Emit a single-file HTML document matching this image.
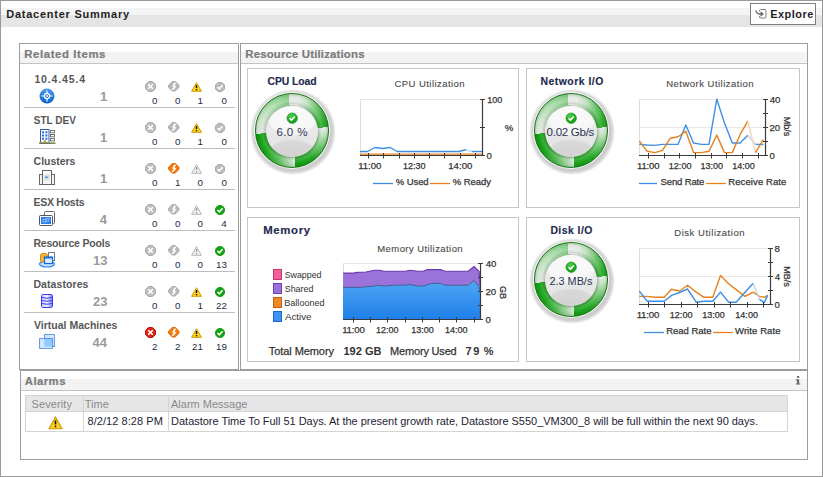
<!DOCTYPE html>
<html><head><meta charset="utf-8"><style>
html,body{margin:0;padding:0;background:#fff;}
body{width:823px;height:477px;position:relative;overflow:hidden;font-family:"Liberation Sans",sans-serif;}
.t{position:absolute;white-space:nowrap;}
.r{position:absolute;}
svg{position:absolute;overflow:visible;}
</style></head><body>
<div class="r" style="left:0px;top:0px;width:823px;height:477px;border:1px solid #9a9a9a;box-sizing:border-box;background:#fff;"></div>
<div class="r" style="left:1px;top:8px;width:821px;height:7px;background:#f4f4f4"></div>
<div class="r" style="left:1px;top:15px;width:821px;height:12px;background:#e5e5e5"></div>

<div class="r" style="left:750px;top:3px;width:66px;height:22px;border:1px solid #7d7d7d;box-sizing:border-box;background:#fff;"></div>

<svg style="left:755px;top:9px;" width="12" height="10" viewBox="0 0 12 10"><path d="M4.5 2.5 V1.5 Q4.5 0.5 5.5 0.5 H10 Q11 0.5 11 1.5 V8 Q11 9 10 9 H5.5 Q4.5 9 4.5 8 V7" fill="none" stroke="#808080" stroke-width="1"/><path d="M1 1.5 Q1.5 5 5 5 H6.5" fill="none" stroke="#6a6a6a" stroke-width="1.5"/><path d="M5.5 2.2 L9 5 L5.5 7.8 Z" fill="#6a6a6a"/></svg>
<div class="r" style="left:19px;top:43px;width:220px;height:327px;border:1px solid #9c9c9c;box-sizing:border-box;"></div>
<div class="r" style="left:20px;top:52px;width:218px;height:11px;background:#f3f3f3"></div>
<div class="r" style="left:20px;top:63px;width:218px;height:1px;background:#c4c4c4"></div>

<div class="r" style="left:240px;top:43px;width:568px;height:327px;border:1px solid #9c9c9c;box-sizing:border-box;"></div>
<div class="r" style="left:241px;top:52px;width:566px;height:11px;background:#f3f3f3"></div>
<div class="r" style="left:241px;top:63px;width:566px;height:1px;background:#c4c4c4"></div>

<div class="r" style="left:247px;top:68px;width:272px;height:140px;border:1px solid #c6c6c6;box-sizing:border-box;"></div>
<div class="r" style="left:526px;top:68px;width:274px;height:140px;border:1px solid #c6c6c6;box-sizing:border-box;"></div>
<div class="r" style="left:247px;top:217px;width:272px;height:145px;border:1px solid #c6c6c6;box-sizing:border-box;"></div>
<div class="r" style="left:526px;top:217px;width:274px;height:145px;border:1px solid #c6c6c6;box-sizing:border-box;"></div>


<svg style="left:39px;top:88px;" width="16" height="16" viewBox="0 0 16 16"><defs><linearGradient id="tg" x1="0" y1="0" x2="0" y2="1"><stop offset="0" stop-color="#4a9af0"/><stop offset="1" stop-color="#0a62cc"/></linearGradient></defs><circle cx="8" cy="8" r="7.5" fill="url(#tg)"/><circle cx="8" cy="8" r="2.6" fill="none" stroke="#fff" stroke-width="1.2"/><path d="M8 2.5 V5.3 M8 10.7 V13.5 M2.5 8 H5.3 M10.7 8 H13.5" stroke="#fff" stroke-width="1.2"/><circle cx="8" cy="8" r="0.9" fill="#fff"/></svg>
<svg style="left:145px;top:81px;" width="11" height="11" viewBox="0 0 11 11"><path d="M3.5 0.5 H7.5 L10.5 3.5 V7.5 L7.5 10.5 H3.5 L0.5 7.5 V3.5 Z" fill="#bdbdbd" stroke="#a9a9a9" stroke-width="1"/><path d="M3.2 3.2 L7.8 7.8 M7.8 3.2 L3.2 7.8" stroke="#fff" stroke-width="1.6"/></svg>
<svg style="left:168px;top:81px;" width="12" height="11" viewBox="0 0 12 11"><path d="M4.3 0.5 H7.2 L11 4.2 V6.3 L7.2 10 H4.3 L0.5 6.3 V4.2 Z" fill="#bababa" stroke="#a6a6a6" stroke-width="0.9" stroke-linejoin="round"/><path d="M7.3 1.8 L5.3 4.9 L7.1 5.7 L4.3 8.8" fill="none" stroke="#fff" stroke-width="1.7" stroke-linejoin="round"/></svg>
<svg style="left:191px;top:82px;" width="11" height="10" viewBox="0 0 11 10"><path d="M5.5 0.7 L10.4 9.3 H0.6 Z" fill="#ffd21c" stroke="#d39a00" stroke-width="1" stroke-linejoin="round"/><path d="M5.5 3 V6" stroke="#111" stroke-width="1.4"/><rect x="4.8" y="7" width="1.4" height="1.3" fill="#111"/></svg>
<svg style="left:215px;top:82px;" width="10" height="10" viewBox="0 0 10 10"><path d="M3 0.5 H7 L9.5 3 V7 L7 9.5 H3 L0.5 7 V3 Z" fill="#bcbcbc" stroke="#aaa" stroke-width="1"/><path d="M2.5 5 L4.3 6.8 L7.6 3.2" fill="none" stroke="#fff" stroke-width="1.5"/></svg>




<div class="r" style="left:24px;top:107px;width:211px;height:1px;background:#bdbdbd"></div>


<svg style="left:39px;top:129px;" width="17" height="16" viewBox="0 0 17 16"><rect x="1.5" y="0.5" width="8.5" height="13.5" fill="#fff" stroke="#3c5aa0" stroke-width="1"/><rect x="3" y="2.3" width="2" height="2" fill="#1a6ef0"/><rect x="6.4" y="2.3" width="2" height="2" fill="#1a6ef0"/><rect x="3" y="5.5" width="2" height="2" fill="#1a6ef0"/><rect x="6.4" y="5.5" width="2" height="2" fill="#1a6ef0"/><rect x="3" y="8.7" width="2" height="2" fill="#1a6ef0"/><rect x="6.4" y="8.7" width="2" height="2" fill="#1a6ef0"/><rect x="4.8" y="11.3" width="2" height="2.7" fill="#e07a10"/><rect x="11.5" y="1.5" width="4" height="2.3" fill="#fff" stroke="#777" stroke-width="1"/><rect x="11.5" y="5.5" width="4" height="2.3" fill="#fff" stroke="#777" stroke-width="1"/><rect x="11.5" y="9.5" width="4" height="2.3" fill="#fff" stroke="#777" stroke-width="1"/><rect x="0" y="13.5" width="16.5" height="1.3" fill="#7a5a3a"/><rect x="1" y="12.8" width="15" height="0.8" fill="#7ad07a"/></svg>
<svg style="left:145px;top:122px;" width="11" height="11" viewBox="0 0 11 11"><path d="M3.5 0.5 H7.5 L10.5 3.5 V7.5 L7.5 10.5 H3.5 L0.5 7.5 V3.5 Z" fill="#bdbdbd" stroke="#a9a9a9" stroke-width="1"/><path d="M3.2 3.2 L7.8 7.8 M7.8 3.2 L3.2 7.8" stroke="#fff" stroke-width="1.6"/></svg>
<svg style="left:168px;top:122px;" width="12" height="11" viewBox="0 0 12 11"><path d="M4.3 0.5 H7.2 L11 4.2 V6.3 L7.2 10 H4.3 L0.5 6.3 V4.2 Z" fill="#bababa" stroke="#a6a6a6" stroke-width="0.9" stroke-linejoin="round"/><path d="M7.3 1.8 L5.3 4.9 L7.1 5.7 L4.3 8.8" fill="none" stroke="#fff" stroke-width="1.7" stroke-linejoin="round"/></svg>
<svg style="left:191px;top:123px;" width="11" height="10" viewBox="0 0 11 10"><path d="M5.5 0.7 L10.4 9.3 H0.6 Z" fill="#ffd21c" stroke="#d39a00" stroke-width="1" stroke-linejoin="round"/><path d="M5.5 3 V6" stroke="#111" stroke-width="1.4"/><rect x="4.8" y="7" width="1.4" height="1.3" fill="#111"/></svg>
<svg style="left:215px;top:123px;" width="10" height="10" viewBox="0 0 10 10"><path d="M3 0.5 H7 L9.5 3 V7 L7 9.5 H3 L0.5 7 V3 Z" fill="#bcbcbc" stroke="#aaa" stroke-width="1"/><path d="M2.5 5 L4.3 6.8 L7.6 3.2" fill="none" stroke="#fff" stroke-width="1.5"/></svg>




<div class="r" style="left:24px;top:148px;width:211px;height:1px;background:#bdbdbd"></div>


<svg style="left:39px;top:170px;" width="16" height="15" viewBox="0 0 16 15"><rect x="0.5" y="4.5" width="3.5" height="10" fill="#f4f4f4" stroke="#666" stroke-width="1"/><rect x="12" y="4.5" width="3.5" height="10" fill="#f4f4f4" stroke="#666" stroke-width="1"/><rect x="3.5" y="0.5" width="9" height="14" fill="#f8f8f8" stroke="#666" stroke-width="1"/><rect x="5" y="4.5" width="6" height="6" fill="#e0e0e0"/><rect x="6.5" y="6.5" width="2" height="1.5" fill="#1a6ef0"/></svg>
<svg style="left:145px;top:163px;" width="11" height="11" viewBox="0 0 11 11"><path d="M3.5 0.5 H7.5 L10.5 3.5 V7.5 L7.5 10.5 H3.5 L0.5 7.5 V3.5 Z" fill="#bdbdbd" stroke="#a9a9a9" stroke-width="1"/><path d="M3.2 3.2 L7.8 7.8 M7.8 3.2 L3.2 7.8" stroke="#fff" stroke-width="1.6"/></svg>
<svg style="left:168px;top:163px;" width="12" height="11" viewBox="0 0 12 11"><path d="M4.3 0.5 H7.2 L11 4.2 V6.3 L7.2 10 H4.3 L0.5 6.3 V4.2 Z" fill="#f57c0c" stroke="#dc5e00" stroke-width="0.9" stroke-linejoin="round"/><path d="M7.3 1.8 L5.3 4.9 L7.1 5.7 L4.3 8.8" fill="none" stroke="#fff" stroke-width="1.7" stroke-linejoin="round"/></svg>
<svg style="left:191px;top:164px;" width="11" height="10" viewBox="0 0 11 10"><path d="M5.5 0.7 L10.4 9.3 H0.6 Z" fill="#f4f4f4" stroke="#b4b4b4" stroke-width="1" stroke-linejoin="round"/><path d="M5.5 3 V6" stroke="#9a9a9a" stroke-width="1.4"/><rect x="4.8" y="7" width="1.4" height="1.3" fill="#9a9a9a"/></svg>
<svg style="left:215px;top:164px;" width="10" height="10" viewBox="0 0 10 10"><path d="M3 0.5 H7 L9.5 3 V7 L7 9.5 H3 L0.5 7 V3 Z" fill="#bcbcbc" stroke="#aaa" stroke-width="1"/><path d="M2.5 5 L4.3 6.8 L7.6 3.2" fill="none" stroke="#fff" stroke-width="1.5"/></svg>




<div class="r" style="left:24px;top:189px;width:211px;height:1px;background:#bdbdbd"></div>


<svg style="left:39px;top:211px;" width="16" height="15" viewBox="0 0 16 15"><rect x="5.5" y="0.5" width="10" height="12" rx="1" fill="#fff" stroke="#666" stroke-width="1"/><rect x="0.5" y="4.5" width="13" height="10" rx="1" fill="#fff" stroke="#555" stroke-width="1"/><rect x="2" y="6" width="10" height="7" fill="#2a7ff0"/><rect x="4" y="8.5" width="3" height="2.5" fill="none" stroke="#9cc8ff" stroke-width="0.8"/><rect x="7" y="7.5" width="3" height="2.5" fill="none" stroke="#9cc8ff" stroke-width="0.8"/></svg>
<svg style="left:145px;top:204px;" width="11" height="11" viewBox="0 0 11 11"><path d="M3.5 0.5 H7.5 L10.5 3.5 V7.5 L7.5 10.5 H3.5 L0.5 7.5 V3.5 Z" fill="#bdbdbd" stroke="#a9a9a9" stroke-width="1"/><path d="M3.2 3.2 L7.8 7.8 M7.8 3.2 L3.2 7.8" stroke="#fff" stroke-width="1.6"/></svg>
<svg style="left:168px;top:204px;" width="12" height="11" viewBox="0 0 12 11"><path d="M4.3 0.5 H7.2 L11 4.2 V6.3 L7.2 10 H4.3 L0.5 6.3 V4.2 Z" fill="#bababa" stroke="#a6a6a6" stroke-width="0.9" stroke-linejoin="round"/><path d="M7.3 1.8 L5.3 4.9 L7.1 5.7 L4.3 8.8" fill="none" stroke="#fff" stroke-width="1.7" stroke-linejoin="round"/></svg>
<svg style="left:191px;top:205px;" width="11" height="10" viewBox="0 0 11 10"><path d="M5.5 0.7 L10.4 9.3 H0.6 Z" fill="#f4f4f4" stroke="#b4b4b4" stroke-width="1" stroke-linejoin="round"/><path d="M5.5 3 V6" stroke="#9a9a9a" stroke-width="1.4"/><rect x="4.8" y="7" width="1.4" height="1.3" fill="#9a9a9a"/></svg>
<svg style="left:215px;top:205px;" width="10" height="10" viewBox="0 0 10 10"><circle cx="5" cy="5" r="4.6" fill="#12a512" stroke="#0a8a0a" stroke-width="0.8"/><path d="M2.5 5 L4.3 6.8 L7.6 3.2" fill="none" stroke="#fff" stroke-width="1.6"/></svg>




<div class="r" style="left:24px;top:230px;width:211px;height:1px;background:#bdbdbd"></div>


<svg style="left:39px;top:252px;" width="17" height="16" viewBox="0 0 17 16"><ellipse cx="8" cy="12" rx="7.5" ry="3" fill="#bfe0ff" stroke="#2a86ea" stroke-width="1.2"/><rect x="9.5" y="0.5" width="6" height="8" fill="#fff" stroke="#777" stroke-width="1"/><rect x="1.5" y="1.5" width="7" height="8.5" rx="2" fill="#f7b23a" stroke="#d88a10" stroke-width="1"/><rect x="5.5" y="5" width="8" height="6.5" fill="#d8f0ff" stroke="#1a6ad8" stroke-width="1.2"/><rect x="5.5" y="5" width="8" height="1.5" fill="#1a6ad8"/></svg>
<svg style="left:145px;top:245px;" width="11" height="11" viewBox="0 0 11 11"><path d="M3.5 0.5 H7.5 L10.5 3.5 V7.5 L7.5 10.5 H3.5 L0.5 7.5 V3.5 Z" fill="#bdbdbd" stroke="#a9a9a9" stroke-width="1"/><path d="M3.2 3.2 L7.8 7.8 M7.8 3.2 L3.2 7.8" stroke="#fff" stroke-width="1.6"/></svg>
<svg style="left:168px;top:245px;" width="12" height="11" viewBox="0 0 12 11"><path d="M4.3 0.5 H7.2 L11 4.2 V6.3 L7.2 10 H4.3 L0.5 6.3 V4.2 Z" fill="#bababa" stroke="#a6a6a6" stroke-width="0.9" stroke-linejoin="round"/><path d="M7.3 1.8 L5.3 4.9 L7.1 5.7 L4.3 8.8" fill="none" stroke="#fff" stroke-width="1.7" stroke-linejoin="round"/></svg>
<svg style="left:191px;top:246px;" width="11" height="10" viewBox="0 0 11 10"><path d="M5.5 0.7 L10.4 9.3 H0.6 Z" fill="#f4f4f4" stroke="#b4b4b4" stroke-width="1" stroke-linejoin="round"/><path d="M5.5 3 V6" stroke="#9a9a9a" stroke-width="1.4"/><rect x="4.8" y="7" width="1.4" height="1.3" fill="#9a9a9a"/></svg>
<svg style="left:215px;top:246px;" width="10" height="10" viewBox="0 0 10 10"><circle cx="5" cy="5" r="4.6" fill="#12a512" stroke="#0a8a0a" stroke-width="0.8"/><path d="M2.5 5 L4.3 6.8 L7.6 3.2" fill="none" stroke="#fff" stroke-width="1.6"/></svg>




<div class="r" style="left:24px;top:271px;width:211px;height:1px;background:#bdbdbd"></div>


<svg style="left:41px;top:294px;" width="12" height="14" viewBox="0 0 12 14"><defs><linearGradient id="dsg" x1="0" y1="0" x2="1" y2="0"><stop offset="0" stop-color="#c8c8ff"/><stop offset="0.5" stop-color="#f4f4ff"/><stop offset="1" stop-color="#7a7aff"/></linearGradient></defs><path d="M1.5 0.5 H10.5 L11.5 1.5 V12.5 L10.5 13.5 H1.5 L0.5 12.5 V1.5 Z" fill="url(#dsg)" stroke="#3a3af0" stroke-width="1"/><path d="M1 3.5 Q6 5 11 3.5 M1 6.5 Q6 8 11 6.5 M1 9.5 Q6 11 11 9.5" fill="none" stroke="#3a3af0" stroke-width="1"/></svg>
<svg style="left:145px;top:286px;" width="11" height="11" viewBox="0 0 11 11"><path d="M3.5 0.5 H7.5 L10.5 3.5 V7.5 L7.5 10.5 H3.5 L0.5 7.5 V3.5 Z" fill="#bdbdbd" stroke="#a9a9a9" stroke-width="1"/><path d="M3.2 3.2 L7.8 7.8 M7.8 3.2 L3.2 7.8" stroke="#fff" stroke-width="1.6"/></svg>
<svg style="left:168px;top:286px;" width="12" height="11" viewBox="0 0 12 11"><path d="M4.3 0.5 H7.2 L11 4.2 V6.3 L7.2 10 H4.3 L0.5 6.3 V4.2 Z" fill="#bababa" stroke="#a6a6a6" stroke-width="0.9" stroke-linejoin="round"/><path d="M7.3 1.8 L5.3 4.9 L7.1 5.7 L4.3 8.8" fill="none" stroke="#fff" stroke-width="1.7" stroke-linejoin="round"/></svg>
<svg style="left:191px;top:287px;" width="11" height="10" viewBox="0 0 11 10"><path d="M5.5 0.7 L10.4 9.3 H0.6 Z" fill="#ffd21c" stroke="#d39a00" stroke-width="1" stroke-linejoin="round"/><path d="M5.5 3 V6" stroke="#111" stroke-width="1.4"/><rect x="4.8" y="7" width="1.4" height="1.3" fill="#111"/></svg>
<svg style="left:215px;top:287px;" width="10" height="10" viewBox="0 0 10 10"><circle cx="5" cy="5" r="4.6" fill="#12a512" stroke="#0a8a0a" stroke-width="0.8"/><path d="M2.5 5 L4.3 6.8 L7.6 3.2" fill="none" stroke="#fff" stroke-width="1.6"/></svg>




<div class="r" style="left:24px;top:312px;width:211px;height:1px;background:#bdbdbd"></div>


<svg style="left:39px;top:334px;" width="16" height="15" viewBox="0 0 16 15"><rect x="5.5" y="0.5" width="10" height="12" fill="#cfe8ff" stroke="#1a62d0" stroke-width="1" stroke-dasharray="1.2 0.8"/><rect x="0.5" y="4.5" width="13" height="10" fill="#bfe2ff" fill-opacity="0.8" stroke="#1a62d0" stroke-width="1" stroke-dasharray="1.2 0.8"/><rect x="6" y="5" width="7" height="7" fill="#8ccaff"/></svg>
<svg style="left:145px;top:327px;" width="11" height="11" viewBox="0 0 11 11"><path d="M3.5 0.5 H7.5 L10.5 3.5 V7.5 L7.5 10.5 H3.5 L0.5 7.5 V3.5 Z" fill="#e0241a" stroke="#c21208" stroke-width="1"/><path d="M3.2 3.2 L7.8 7.8 M7.8 3.2 L3.2 7.8" stroke="#fff" stroke-width="1.6"/></svg>
<svg style="left:168px;top:327px;" width="12" height="11" viewBox="0 0 12 11"><path d="M4.3 0.5 H7.2 L11 4.2 V6.3 L7.2 10 H4.3 L0.5 6.3 V4.2 Z" fill="#f57c0c" stroke="#dc5e00" stroke-width="0.9" stroke-linejoin="round"/><path d="M7.3 1.8 L5.3 4.9 L7.1 5.7 L4.3 8.8" fill="none" stroke="#fff" stroke-width="1.7" stroke-linejoin="round"/></svg>
<svg style="left:191px;top:328px;" width="11" height="10" viewBox="0 0 11 10"><path d="M5.5 0.7 L10.4 9.3 H0.6 Z" fill="#ffd21c" stroke="#d39a00" stroke-width="1" stroke-linejoin="round"/><path d="M5.5 3 V6" stroke="#111" stroke-width="1.4"/><rect x="4.8" y="7" width="1.4" height="1.3" fill="#111"/></svg>
<svg style="left:215px;top:328px;" width="10" height="10" viewBox="0 0 10 10"><circle cx="5" cy="5" r="4.6" fill="#12a512" stroke="#0a8a0a" stroke-width="0.8"/><path d="M2.5 5 L4.3 6.8 L7.6 3.2" fill="none" stroke="#fff" stroke-width="1.6"/></svg>




<div class="r" style="left:20px;top:370px;width:788px;height:90px;border:1px solid #9c9c9c;box-sizing:border-box;"></div>
<div class="r" style="left:21px;top:379px;width:786px;height:11px;background:#f3f3f3"></div>
<div class="r" style="left:21px;top:390px;width:786px;height:1px;background:#c4c4c4"></div>

<svg style="left:795px;top:375px;" width="6" height="10" viewBox="0 0 6 10"><rect x="2" y="1" width="2.2" height="2" fill="#6a6a6a"/><path d="M0.8 4.3 H4.2 V8.6 H5.2 V9.6 H0.8 V8.6 H1.9 V5.3 H0.8 Z" fill="#6a6a6a"/></svg>
<div class="r" style="left:25px;top:395px;width:763px;height:37px;border:1px solid #d4d4d4;box-sizing:border-box;"></div>
<div class="r" style="left:26px;top:396px;width:761px;height:15px;background:#e6e6e6"></div>
<div class="r" style="left:26px;top:411px;width:761px;height:1px;background:#d4d4d4"></div>
<div class="r" style="left:83px;top:396px;width:1px;height:35px;background:#d4d4d4"></div>
<div class="r" style="left:168px;top:396px;width:1px;height:35px;background:#d4d4d4"></div>





<svg style="left:48px;top:416px;" width="15" height="14" viewBox="0 0 15 14"><path d="M7.5 1 L14 12.8 H1 Z" fill="#ffd21c" stroke="#c99400" stroke-width="1.1" stroke-linejoin="round"/><path d="M7.5 4.5 V8.5" stroke="#111" stroke-width="1.6"/><rect x="6.7" y="9.6" width="1.6" height="1.6" fill="#111"/></svg>
<div class="r" style="left:250.10px;top:89.20px;width:86.00px;height:86.00px;border-radius:50%;background:radial-gradient(circle closest-side, #cccccc 0, #cccccc 89%, #d4d4d4 93%, rgba(225,225,225,0.7) 97%, rgba(255,255,255,0) 100%);"></div>
<div class="r" style="left:253.50px;top:92.20px;width:76.60px;height:76.60px;border-radius:50%;background:#f6f6f6;"></div>
<div class="r" style="left:254.60px;top:93.30px;width:74.40px;height:74.40px;border-radius:50%;box-sizing:border-box;border:1.5px solid #0f7a0f;background:conic-gradient(from -5.5deg, #e8e8e8 0.0deg, #e2eae2 18.0deg, #bfe0bf 34.0deg, #6cc46c 54.0deg, #2eac2e 78.0deg, #20a520 90.0deg, #e4e6e4 90.0deg, #c2e0c2 102.0deg, #6ec46e 124.0deg, #26a826 148.0deg, #12a012 180.0deg, #d9e2d9 180.0deg, #a0d2a0 193.0deg, #52b852 212.0deg, #1ea41e 236.0deg, #0e9e0e 270.0deg, #dde2dd 270.0deg, #d0e4d0 290.0deg, #b4dfb4 318.0deg, #94d594 348.0deg, #86cf86 360.0deg);"></div>
<div class="r" style="left:254.60px;top:93.30px;width:74.40px;height:74.40px;border-radius:50%;background:radial-gradient(circle closest-side, rgba(0,0,0,0) 70%, rgba(120,120,120,0.18) 73%, rgba(255,255,255,0.15) 80%, rgba(255,255,255,0) 90%, rgba(0,50,0,0.12) 97%, rgba(0,50,0,0) 100%);"></div>
<div class="r" style="left:265.90px;top:105.50px;width:51.80px;height:51.80px;border-radius:50%;background:linear-gradient(#ececec 0%, #e8e8e8 50%, #e2e2e2 100%);box-shadow:0 0 1px 0.7px rgba(100,100,100,0.35);overflow:hidden;"><div style="position:absolute;left:1.90px;top:-4.10px;width:48px;height:34px;border-radius:50%;background:radial-gradient(ellipse at 50% 40%, #fbfbfb 0%, #f6f6f6 70%, rgba(246,246,246,0) 100%);"></div><div style="position:absolute;left:3.90px;top:34.40px;width:44px;height:22px;border-radius:50%;background:radial-gradient(ellipse at 50% 60%, rgba(0,0,0,0.07) 0%, rgba(0,0,0,0.06) 65%, rgba(0,0,0,0) 100%);"></div></div>
<svg style="left:285.6px;top:111.89999999999999px;" width="12.4" height="12.4" viewBox="0 0 12.4 12.4"><defs><radialGradient id="ckg" cx="0.4" cy="0.3" r="0.8"><stop offset="0" stop-color="#4ad04a"/><stop offset="1" stop-color="#0a900a"/></radialGradient></defs><circle cx="6.2" cy="6.2" r="5.2" fill="url(#ckg)" stroke="#0a8a0a" stroke-width="0.6"/><path d="M3.6 6.3 L5.4 8.1 L8.8 4.4" fill="none" stroke="#fff" stroke-width="1.5"/></svg>

<div class="r" style="left:529.10px;top:89.20px;width:86.00px;height:86.00px;border-radius:50%;background:radial-gradient(circle closest-side, #cccccc 0, #cccccc 89%, #d4d4d4 93%, rgba(225,225,225,0.7) 97%, rgba(255,255,255,0) 100%);"></div>
<div class="r" style="left:532.50px;top:92.20px;width:76.60px;height:76.60px;border-radius:50%;background:#f6f6f6;"></div>
<div class="r" style="left:533.60px;top:93.30px;width:74.40px;height:74.40px;border-radius:50%;box-sizing:border-box;border:1.5px solid #0f7a0f;background:conic-gradient(from -5.5deg, #e8e8e8 0.0deg, #e2eae2 18.0deg, #bfe0bf 34.0deg, #6cc46c 54.0deg, #2eac2e 78.0deg, #20a520 90.0deg, #e4e6e4 90.0deg, #c2e0c2 102.0deg, #6ec46e 124.0deg, #26a826 148.0deg, #12a012 180.0deg, #d9e2d9 180.0deg, #a0d2a0 193.0deg, #52b852 212.0deg, #1ea41e 236.0deg, #0e9e0e 270.0deg, #dde2dd 270.0deg, #d0e4d0 290.0deg, #b4dfb4 318.0deg, #94d594 348.0deg, #86cf86 360.0deg);"></div>
<div class="r" style="left:533.60px;top:93.30px;width:74.40px;height:74.40px;border-radius:50%;background:radial-gradient(circle closest-side, rgba(0,0,0,0) 70%, rgba(120,120,120,0.18) 73%, rgba(255,255,255,0.15) 80%, rgba(255,255,255,0) 90%, rgba(0,50,0,0.12) 97%, rgba(0,50,0,0) 100%);"></div>
<div class="r" style="left:544.90px;top:105.50px;width:51.80px;height:51.80px;border-radius:50%;background:linear-gradient(#ececec 0%, #e8e8e8 50%, #e2e2e2 100%);box-shadow:0 0 1px 0.7px rgba(100,100,100,0.35);overflow:hidden;"><div style="position:absolute;left:1.90px;top:-4.10px;width:48px;height:34px;border-radius:50%;background:radial-gradient(ellipse at 50% 40%, #fbfbfb 0%, #f6f6f6 70%, rgba(246,246,246,0) 100%);"></div><div style="position:absolute;left:3.90px;top:34.40px;width:44px;height:22px;border-radius:50%;background:radial-gradient(ellipse at 50% 60%, rgba(0,0,0,0.07) 0%, rgba(0,0,0,0.06) 65%, rgba(0,0,0,0) 100%);"></div></div>
<svg style="left:564.5999999999999px;top:111.89999999999999px;" width="12.4" height="12.4" viewBox="0 0 12.4 12.4"><defs><radialGradient id="ckg" cx="0.4" cy="0.3" r="0.8"><stop offset="0" stop-color="#4ad04a"/><stop offset="1" stop-color="#0a900a"/></radialGradient></defs><circle cx="6.2" cy="6.2" r="5.2" fill="url(#ckg)" stroke="#0a8a0a" stroke-width="0.6"/><path d="M3.6 6.3 L5.4 8.1 L8.8 4.4" fill="none" stroke="#fff" stroke-width="1.5"/></svg>

<div class="r" style="left:529.10px;top:238.20px;width:86.00px;height:86.00px;border-radius:50%;background:radial-gradient(circle closest-side, #cccccc 0, #cccccc 89%, #d4d4d4 93%, rgba(225,225,225,0.7) 97%, rgba(255,255,255,0) 100%);"></div>
<div class="r" style="left:532.50px;top:241.20px;width:76.60px;height:76.60px;border-radius:50%;background:#f6f6f6;"></div>
<div class="r" style="left:533.60px;top:242.30px;width:74.40px;height:74.40px;border-radius:50%;box-sizing:border-box;border:1.5px solid #0f7a0f;background:conic-gradient(from -5.5deg, #e8e8e8 0.0deg, #e2eae2 18.0deg, #bfe0bf 34.0deg, #6cc46c 54.0deg, #2eac2e 78.0deg, #20a520 90.0deg, #e4e6e4 90.0deg, #c2e0c2 102.0deg, #6ec46e 124.0deg, #26a826 148.0deg, #12a012 180.0deg, #d9e2d9 180.0deg, #a0d2a0 193.0deg, #52b852 212.0deg, #1ea41e 236.0deg, #0e9e0e 270.0deg, #dde2dd 270.0deg, #d0e4d0 290.0deg, #b4dfb4 318.0deg, #94d594 348.0deg, #86cf86 360.0deg);"></div>
<div class="r" style="left:533.60px;top:242.30px;width:74.40px;height:74.40px;border-radius:50%;background:radial-gradient(circle closest-side, rgba(0,0,0,0) 70%, rgba(120,120,120,0.18) 73%, rgba(255,255,255,0.15) 80%, rgba(255,255,255,0) 90%, rgba(0,50,0,0.12) 97%, rgba(0,50,0,0) 100%);"></div>
<div class="r" style="left:544.90px;top:254.50px;width:51.80px;height:51.80px;border-radius:50%;background:linear-gradient(#ececec 0%, #e8e8e8 50%, #e2e2e2 100%);box-shadow:0 0 1px 0.7px rgba(100,100,100,0.35);overflow:hidden;"><div style="position:absolute;left:1.90px;top:-4.10px;width:48px;height:34px;border-radius:50%;background:radial-gradient(ellipse at 50% 40%, #fbfbfb 0%, #f6f6f6 70%, rgba(246,246,246,0) 100%);"></div><div style="position:absolute;left:3.90px;top:34.40px;width:44px;height:22px;border-radius:50%;background:radial-gradient(ellipse at 50% 60%, rgba(0,0,0,0.07) 0%, rgba(0,0,0,0.06) 65%, rgba(0,0,0,0) 100%);"></div></div>
<svg style="left:564.5999999999999px;top:260.90000000000003px;" width="12.4" height="12.4" viewBox="0 0 12.4 12.4"><defs><radialGradient id="ckg" cx="0.4" cy="0.3" r="0.8"><stop offset="0" stop-color="#4ad04a"/><stop offset="1" stop-color="#0a900a"/></radialGradient></defs><circle cx="6.2" cy="6.2" r="5.2" fill="url(#ckg)" stroke="#0a8a0a" stroke-width="0.6"/><path d="M3.6 6.3 L5.4 8.1 L8.8 4.4" fill="none" stroke="#fff" stroke-width="1.5"/></svg>




















<div class="t" style="left:756.5px;top:120.6px;width:60px;height:10.799999999999999px;line-height:10.799999999999999px;text-align:center;font-size:9px;color:#333;font-weight:normal;transform:rotate(90deg);-webkit-text-stroke:0.25px #333;">Mb/s</div>










<div class="t" style="left:756.5px;top:270.6px;width:60px;height:10.799999999999999px;line-height:10.799999999999999px;text-align:center;font-size:9px;color:#333;font-weight:normal;transform:rotate(90deg);-webkit-text-stroke:0.25px #333;">MB/s</div>




<div class="t" style="left:472.5px;top:286.6px;width:60px;height:10.799999999999999px;line-height:10.799999999999999px;text-align:center;font-size:9px;color:#333;font-weight:normal;transform:rotate(90deg);-webkit-text-stroke:0.25px #333;">GB</div>

















<svg style="left:0;top:0" width="823" height="477" viewBox="0 0 823 477"><line x1="360.5" y1="99" x2="360.5" y2="155" stroke="#dedede" stroke-width="1"/><line x1="360" y1="99.5" x2="482" y2="99.5" stroke="#e6e6e6" stroke-width="1"/><polyline points="360.0,151.5 367.6,151.5 374.8,147.5 382.7,148.5 390.2,147.5 397.2,151.5 458.5,151.5 466.0,149.8" fill="none" stroke="#3d8fe6" stroke-width="1.4" stroke-linejoin="round" /><polyline points="466.0,149.8 471.9,151.5" fill="none" stroke="#bcd8f4" stroke-width="1.4" stroke-linejoin="round" /><polyline points="471.9,151.5 482.0,151.5" fill="none" stroke="#3d8fe6" stroke-width="1.4" stroke-linejoin="round" /><line x1="360" y1="154.2" x2="482" y2="154.2" stroke="#e5821f" stroke-width="1.3"/><line x1="482.5" y1="99" x2="482.5" y2="156" stroke="#3a3a3a" stroke-width="1.2"/><line x1="360" y1="155.5" x2="483" y2="155.5" stroke="#3a3a3a" stroke-width="1.2"/><line x1="480" y1="99.5" x2="485" y2="99.5" stroke="#3a3a3a" stroke-width="1"/><line x1="480" y1="127.5" x2="485" y2="127.5" stroke="#3a3a3a" stroke-width="1"/><line x1="480" y1="155.5" x2="485" y2="155.5" stroke="#3a3a3a" stroke-width="1"/><line x1="368.5" y1="153" x2="368.5" y2="158.5" stroke="#3a3a3a" stroke-width="1"/><line x1="383.5" y1="153" x2="383.5" y2="158.5" stroke="#3a3a3a" stroke-width="1"/><line x1="399.5" y1="153" x2="399.5" y2="158.5" stroke="#3a3a3a" stroke-width="1"/><line x1="414.5" y1="153" x2="414.5" y2="158.5" stroke="#3a3a3a" stroke-width="1"/><line x1="429.5" y1="153" x2="429.5" y2="158.5" stroke="#3a3a3a" stroke-width="1"/><line x1="444.5" y1="153" x2="444.5" y2="158.5" stroke="#3a3a3a" stroke-width="1"/><line x1="460.5" y1="153" x2="460.5" y2="158.5" stroke="#3a3a3a" stroke-width="1"/><line x1="475.5" y1="153" x2="475.5" y2="158.5" stroke="#3a3a3a" stroke-width="1"/><line x1="373" y1="183.5" x2="393" y2="183.5" stroke="#3d8fe6" stroke-width="1.3"/><line x1="430" y1="183.5" x2="450" y2="183.5" stroke="#e5821f" stroke-width="1.3"/><line x1="639.5" y1="99" x2="639.5" y2="155" stroke="#dedede" stroke-width="1"/><line x1="639" y1="99.5" x2="765" y2="99.5" stroke="#e6e6e6" stroke-width="1"/><line x1="639" y1="127.5" x2="765" y2="127.5" stroke="#e8e8e8" stroke-width="1"/><polyline points="639.3,144.4 647.0,145.0 654.8,145.4 662.5,144.4 670.3,144.4 678.0,144.4 685.8,125.0 693.5,143.0 701.3,144.4 709.0,144.4 716.8,99.1 724.5,123.0 732.3,143.0 740.0,143.0 747.8,135.3" fill="none" stroke="#3d8fe6" stroke-width="1.4" stroke-linejoin="round" /><polyline points="747.8,135.3 755.5,144.4" fill="none" stroke="#bcd8f4" stroke-width="1.4" stroke-linejoin="round" /><polyline points="755.5,144.4 763.3,144.4" fill="none" stroke="#3d8fe6" stroke-width="1.4" stroke-linejoin="round" /><polyline points="639.3,141.0 647.0,151.2 654.8,152.6 662.5,150.3 670.3,138.2 678.0,136.7 685.8,131.2 693.5,152.6 701.3,152.6 709.0,151.2 716.8,135.1 724.5,152.6 732.3,152.6 740.0,134.7 747.8,121.1" fill="none" stroke="#e5821f" stroke-width="1.4" stroke-linejoin="round" /><polyline points="747.8,121.1 755.5,152.6" fill="none" stroke="#f4d4b4" stroke-width="1.4" stroke-linejoin="round" /><polyline points="755.5,152.6 763.3,139.6" fill="none" stroke="#e5821f" stroke-width="1.4" stroke-linejoin="round" /><line x1="765.5" y1="99" x2="765.5" y2="156" stroke="#3a3a3a" stroke-width="1.2"/><line x1="639" y1="155.5" x2="766" y2="155.5" stroke="#3a3a3a" stroke-width="1.2"/><line x1="763" y1="99.5" x2="768" y2="99.5" stroke="#3a3a3a" stroke-width="1"/><line x1="763" y1="113.5" x2="768" y2="113.5" stroke="#3a3a3a" stroke-width="1"/><line x1="763" y1="127.5" x2="768" y2="127.5" stroke="#3a3a3a" stroke-width="1"/><line x1="763" y1="141.5" x2="768" y2="141.5" stroke="#3a3a3a" stroke-width="1"/><line x1="763" y1="155.5" x2="768" y2="155.5" stroke="#3a3a3a" stroke-width="1"/><line x1="648.5" y1="153" x2="648.5" y2="158.5" stroke="#3a3a3a" stroke-width="1"/><line x1="664.5" y1="153" x2="664.5" y2="158.5" stroke="#3a3a3a" stroke-width="1"/><line x1="679.5" y1="153" x2="679.5" y2="158.5" stroke="#3a3a3a" stroke-width="1"/><line x1="695.5" y1="153" x2="695.5" y2="158.5" stroke="#3a3a3a" stroke-width="1"/><line x1="711.5" y1="153" x2="711.5" y2="158.5" stroke="#3a3a3a" stroke-width="1"/><line x1="726.5" y1="153" x2="726.5" y2="158.5" stroke="#3a3a3a" stroke-width="1"/><line x1="742.5" y1="153" x2="742.5" y2="158.5" stroke="#3a3a3a" stroke-width="1"/><line x1="758.5" y1="153" x2="758.5" y2="158.5" stroke="#3a3a3a" stroke-width="1"/><line x1="639" y1="183.5" x2="657" y2="183.5" stroke="#3d8fe6" stroke-width="1.3"/><line x1="706" y1="183.5" x2="726" y2="183.5" stroke="#e5821f" stroke-width="1.3"/><line x1="639.5" y1="248" x2="639.5" y2="304" stroke="#dedede" stroke-width="1"/><line x1="639" y1="248.5" x2="770" y2="248.5" stroke="#e6e6e6" stroke-width="1"/><line x1="639" y1="276.5" x2="770" y2="276.5" stroke="#e8e8e8" stroke-width="1"/><polyline points="639.3,296.4 647.0,296.4 655.4,297.3 664.2,297.3 671.5,289.2 679.7,291.0 687.5,285.3 696.2,292.1 704.0,297.3 712.8,297.3 720.5,275.4 728.7,283.7 736.1,289.6 744.8,296.4 753.2,292.1" fill="none" stroke="#e5821f" stroke-width="1.4" stroke-linejoin="round" /><polyline points="753.2,292.1 759.4,296.4 764.3,297.3 767.6,295.4" fill="none" stroke="#e5821f" stroke-width="1.4" stroke-linejoin="round" /><polyline points="639.3,291.0 647.0,301.2 655.4,301.2 664.2,301.2 671.5,295.4 679.7,292.5 687.5,289.0 696.2,302.2 704.0,301.2 712.8,301.2 720.5,292.1 728.7,302.2 736.1,302.2 744.8,292.5 753.2,283.2" fill="none" stroke="#3d8fe6" stroke-width="1.4" stroke-linejoin="round" /><polyline points="753.2,283.2 759.4,299.3" fill="none" stroke="#bcd8f4" stroke-width="1.4" stroke-linejoin="round" /><polyline points="759.4,299.3 764.3,302.6 767.6,295.4" fill="none" stroke="#3d8fe6" stroke-width="1.4" stroke-linejoin="round" /><line x1="770.5" y1="248" x2="770.5" y2="305" stroke="#3a3a3a" stroke-width="1.2"/><line x1="639" y1="304.5" x2="771" y2="304.5" stroke="#3a3a3a" stroke-width="1.2"/><line x1="768" y1="248.5" x2="773" y2="248.5" stroke="#3a3a3a" stroke-width="1"/><line x1="768" y1="262.5" x2="773" y2="262.5" stroke="#3a3a3a" stroke-width="1"/><line x1="768" y1="276.5" x2="773" y2="276.5" stroke="#3a3a3a" stroke-width="1"/><line x1="768" y1="290.5" x2="773" y2="290.5" stroke="#3a3a3a" stroke-width="1"/><line x1="768" y1="304.5" x2="773" y2="304.5" stroke="#3a3a3a" stroke-width="1"/><line x1="648.5" y1="302" x2="648.5" y2="307.5" stroke="#3a3a3a" stroke-width="1"/><line x1="664.5" y1="302" x2="664.5" y2="307.5" stroke="#3a3a3a" stroke-width="1"/><line x1="681.5" y1="302" x2="681.5" y2="307.5" stroke="#3a3a3a" stroke-width="1"/><line x1="697.5" y1="302" x2="697.5" y2="307.5" stroke="#3a3a3a" stroke-width="1"/><line x1="714.5" y1="302" x2="714.5" y2="307.5" stroke="#3a3a3a" stroke-width="1"/><line x1="730.5" y1="302" x2="730.5" y2="307.5" stroke="#3a3a3a" stroke-width="1"/><line x1="747.5" y1="302" x2="747.5" y2="307.5" stroke="#3a3a3a" stroke-width="1"/><line x1="763.5" y1="302" x2="763.5" y2="307.5" stroke="#3a3a3a" stroke-width="1"/><line x1="644" y1="332.5" x2="664" y2="332.5" stroke="#3d8fe6" stroke-width="1.3"/><line x1="713" y1="332.5" x2="733" y2="332.5" stroke="#e5821f" stroke-width="1.3"/><line x1="343.5" y1="263" x2="343.5" y2="319" stroke="#dedede" stroke-width="1"/><line x1="343" y1="263.5" x2="480" y2="263.5" stroke="#e6e6e6" stroke-width="1"/><defs><linearGradient id="actg" x1="0" y1="0" x2="0" y2="1"><stop offset="0" stop-color="#4ea6f4"/><stop offset="1" stop-color="#1f7fe8"/></linearGradient></defs><path d="M343.1 273.1 L353.7 273.1 L357.0 272.4 L365.8 272.0 L374.6 270.2 L380.1 270.2 L383.0 271.3 L405.4 271.3 L409.8 270.2 L417.5 271.3 L423.0 271.3 L427.4 269.6 L440.6 269.6 L445.0 271.3 L468.1 271.3 L474.1 266.5 L479.1 271.3 L480.2 285.6 L480.2 319.5 L343 319.5 Z" fill="#9a72da"/><polyline points="343.1,273.1 353.7,273.1 357.0,272.4 365.8,272.0 374.6,270.2 380.1,270.2 383.0,271.3 405.4,271.3 409.8,270.2 417.5,271.3 423.0,271.3 427.4,269.6 440.6,269.6 445.0,271.3 468.1,271.3 474.1,266.5 479.1,271.3 480.2,285.6" fill="none" stroke="#6a3aa8" stroke-width="1.1" stroke-linejoin="round" /><path d="M343.1 287.4 L361.4 287.4 L365.8 286.7 L374.6 286.1 L376.8 285.2 L385.6 286.1 L392.2 285.2 L405.4 285.2 L409.8 284.5 L418.6 286.1 L423.0 286.1 L431.8 283.4 L440.6 283.4 L445.0 285.2 L468.1 285.2 L474.1 280.6 L479.1 286.7 L480.2 292.2 L480.2 319.5 L343 319.5 Z" fill="url(#actg)"/><polyline points="343.1,287.4 361.4,287.4 365.8,286.7 374.6,286.1 376.8,285.2 385.6,286.1 392.2,285.2 405.4,285.2 409.8,284.5 418.6,286.1 423.0,286.1 431.8,283.4 440.6,283.4 445.0,285.2 468.1,285.2 474.1,280.6 479.1,286.7 480.2,292.2" fill="none" stroke="#3f6496" stroke-width="1.0" stroke-linejoin="round" /><line x1="480.5" y1="263" x2="480.5" y2="320" stroke="#3a3a3a" stroke-width="1.2"/><line x1="343" y1="319.5" x2="481" y2="319.5" stroke="#3a3a3a" stroke-width="1.2"/><line x1="478" y1="263.5" x2="483" y2="263.5" stroke="#3a3a3a" stroke-width="1"/><line x1="478" y1="277.5" x2="483" y2="277.5" stroke="#3a3a3a" stroke-width="1"/><line x1="478" y1="291.5" x2="483" y2="291.5" stroke="#3a3a3a" stroke-width="1"/><line x1="478" y1="305.5" x2="483" y2="305.5" stroke="#3a3a3a" stroke-width="1"/><line x1="478" y1="319.5" x2="483" y2="319.5" stroke="#3a3a3a" stroke-width="1"/><line x1="353.5" y1="317" x2="353.5" y2="322.5" stroke="#3a3a3a" stroke-width="1"/><line x1="370.5" y1="317" x2="370.5" y2="322.5" stroke="#3a3a3a" stroke-width="1"/><line x1="387.5" y1="317" x2="387.5" y2="322.5" stroke="#3a3a3a" stroke-width="1"/><line x1="405.5" y1="317" x2="405.5" y2="322.5" stroke="#3a3a3a" stroke-width="1"/><line x1="422.5" y1="317" x2="422.5" y2="322.5" stroke="#3a3a3a" stroke-width="1"/><line x1="439.5" y1="317" x2="439.5" y2="322.5" stroke="#3a3a3a" stroke-width="1"/><line x1="456.5" y1="317" x2="456.5" y2="322.5" stroke="#3a3a3a" stroke-width="1"/><line x1="474.5" y1="317" x2="474.5" y2="322.5" stroke="#3a3a3a" stroke-width="1"/><rect x="273.5" y="269.5" width="8" height="10" fill="#f0609a" stroke="#c8306a" stroke-width="1"/><rect x="273.5" y="283.5" width="8" height="10" fill="#9b70da" stroke="#7040b0" stroke-width="1"/><rect x="273.5" y="297.5" width="8" height="10" fill="#ec8a28" stroke="#c06010" stroke-width="1"/><rect x="273.5" y="311.5" width="8" height="10" fill="#3e92f0" stroke="#1a66d0" stroke-width="1"/></svg>
<svg style="left:0;top:0" width="823" height="477" viewBox="0 0 823 477" font-family="Liberation Sans, sans-serif"><text x="6.25" y="18" font-size="11.00" fill="#1f1f1f" font-weight="bold" letter-spacing="0.750">Datacenter Summary</text><text x="770.25" y="18" font-size="11.00" fill="#1f1f1f" font-weight="bold" letter-spacing="0.458">Explore</text><text x="24.25" y="58" font-size="11.40" fill="#7b7b7b" font-weight="bold" letter-spacing="0.594" stroke="#7b7b7b" stroke-width="0.2">Related Items</text><text x="245.25" y="58" font-size="11.40" fill="#7b7b7b" font-weight="bold" letter-spacing="0.169" stroke="#7b7b7b" stroke-width="0.2">Resource Utilizations</text><text x="34.38" y="83" font-size="10.50" fill="#575757" font-weight="bold" letter-spacing="0.859">10.4.45.4</text><text x="100.12" y="101" font-size="13.00" fill="#9a9a9a" font-weight="bold">1</text><text x="151.88" y="104" font-size="9.80" fill="#1e2a48">0</text><text x="174.88" y="104" font-size="9.80" fill="#1e2a48">0</text><text x="197.50" y="104" font-size="9.80" fill="#1e2a48">1</text><text x="221.38" y="104" font-size="9.80" fill="#1e2a48">0</text><text x="33.76" y="124" font-size="10.02" fill="#575757" font-weight="bold">STL DEV</text><text x="100.12" y="142" font-size="13.00" fill="#9a9a9a" font-weight="bold">1</text><text x="151.88" y="145" font-size="9.80" fill="#1e2a48">0</text><text x="174.88" y="145" font-size="9.80" fill="#1e2a48">0</text><text x="197.50" y="145" font-size="9.80" fill="#1e2a48">1</text><text x="221.38" y="145" font-size="9.80" fill="#1e2a48">0</text><text x="33.62" y="165" font-size="10.50" fill="#575757" font-weight="bold" letter-spacing="-0.036">Clusters</text><text x="100.12" y="183" font-size="13.00" fill="#9a9a9a" font-weight="bold">1</text><text x="151.88" y="186" font-size="9.80" fill="#1e2a48">0</text><text x="175.00" y="186" font-size="9.80" fill="#1e2a48">1</text><text x="197.38" y="186" font-size="9.80" fill="#1e2a48">0</text><text x="221.38" y="186" font-size="9.80" fill="#1e2a48">0</text><text x="33.38" y="206" font-size="10.50" fill="#575757" font-weight="bold" letter-spacing="-0.250">ESX Hosts</text><text x="99.75" y="224" font-size="13.00" fill="#9a9a9a" font-weight="bold">4</text><text x="151.88" y="227" font-size="9.80" fill="#1e2a48">0</text><text x="174.88" y="227" font-size="9.80" fill="#1e2a48">0</text><text x="197.38" y="227" font-size="9.80" fill="#1e2a48">0</text><text x="221.25" y="227" font-size="9.80" fill="#1e2a48">4</text><text x="33.38" y="247" font-size="10.50" fill="#575757" font-weight="bold" letter-spacing="-0.183">Resource Pools</text><text x="93.00" y="265" font-size="13.00" fill="#9a9a9a" font-weight="bold">13</text><text x="151.88" y="268" font-size="9.80" fill="#1e2a48">0</text><text x="174.88" y="268" font-size="9.80" fill="#1e2a48">0</text><text x="197.38" y="268" font-size="9.80" fill="#1e2a48">0</text><text x="216.00" y="268" font-size="9.80" fill="#1e2a48">13</text><text x="33.38" y="288" font-size="10.50" fill="#575757" font-weight="bold" letter-spacing="0.083">Datastores</text><text x="93.00" y="306" font-size="13.00" fill="#9a9a9a" font-weight="bold">23</text><text x="151.88" y="309" font-size="9.80" fill="#1e2a48">0</text><text x="174.88" y="309" font-size="9.80" fill="#1e2a48">0</text><text x="197.50" y="309" font-size="9.80" fill="#1e2a48">1</text><text x="216.12" y="309" font-size="9.80" fill="#1e2a48">22</text><text x="33.88" y="329" font-size="10.50" fill="#575757" font-weight="bold" letter-spacing="0.017">Virtual Machines</text><text x="92.62" y="347" font-size="13.00" fill="#9a9a9a" font-weight="bold">44</text><text x="152.00" y="350" font-size="9.80" fill="#1e2a48">2</text><text x="175.00" y="350" font-size="9.80" fill="#1e2a48">2</text><text x="192.00" y="350" font-size="9.80" fill="#1e2a48">21</text><text x="216.00" y="350" font-size="9.80" fill="#1e2a48">19</text><text x="24.75" y="385" font-size="11.40" fill="#7b7b7b" font-weight="bold" letter-spacing="0.425" stroke="#7b7b7b" stroke-width="0.2">Alarms</text><text x="31.50" y="408" font-size="11.00" fill="#8a8a8a" letter-spacing="0.107">Severity</text><text x="84.75" y="408" font-size="11.00" fill="#8a8a8a">Time</text><text x="171.00" y="408" font-size="11.00" fill="#8a8a8a">Alarm Message</text><text x="87.50" y="425" font-size="11.00" fill="#1e2336" letter-spacing="0.058">8/2/12 8:28 PM</text><text x="171.12" y="425" font-size="11.00" fill="#1e2336" letter-spacing="-0.025">Datastore Time To Full 51 Days. At the present growth rate, Datastore S550_VM300_8 will be full within the next 90 days.</text><text x="276.50" y="136" font-size="11.50" fill="#2b3352" letter-spacing="0.375">6.0 %</text><text x="546.62" y="136" font-size="11.50" fill="#2b3352" letter-spacing="-0.266">0.02 Gb/s</text><text x="549.53" y="285" font-size="10.85" fill="#2b3352">2.3 MB/s</text><text x="394.50" y="87" font-size="9.50" fill="#4a4a4a" letter-spacing="0.446" stroke="#4a4a4a" stroke-width="0.12">CPU Utilization</text><text x="487.29" y="103" font-size="9.04" fill="#333" stroke="#333" stroke-width="0.25">100</text><text x="486.62" y="159" font-size="9.60" fill="#333" stroke="#333" stroke-width="0.25">0</text><text x="504.75" y="131" font-size="9.60" fill="#333" stroke="#333" stroke-width="0.25">%</text><text x="358.25" y="169" font-size="9.60" fill="#333" letter-spacing="-0.062" stroke="#333" stroke-width="0.25">11:00</text><text x="403.05" y="169" font-size="9.02" fill="#333" stroke="#333" stroke-width="0.25">12:30</text><text x="448.25" y="169" font-size="9.60" fill="#333" letter-spacing="0.031" stroke="#333" stroke-width="0.25">14:00</text><text x="395.75" y="185" font-size="9.50" fill="#333" letter-spacing="-0.075" stroke="#333" stroke-width="0.25">% Used</text><text x="452.75" y="185" font-size="9.50" fill="#333" letter-spacing="-0.042" stroke="#333" stroke-width="0.25">% Ready</text><text x="666.25" y="87" font-size="9.50" fill="#4a4a4a" letter-spacing="0.479" stroke="#4a4a4a" stroke-width="0.12">Network Utilization</text><text x="769.75" y="103" font-size="9.60" fill="#333" stroke="#333" stroke-width="0.25">40</text><text x="769.50" y="131" font-size="9.60" fill="#333" stroke="#333" stroke-width="0.25">20</text><text x="769.62" y="159" font-size="9.60" fill="#333" stroke="#333" stroke-width="0.25">0</text><text x="637.00" y="169" font-size="9.60" fill="#333" letter-spacing="-0.188" stroke="#333" stroke-width="0.25">11:00</text><text x="668.85" y="169" font-size="9.02" fill="#333" stroke="#333" stroke-width="0.25">12:00</text><text x="700.55" y="169" font-size="9.02" fill="#333" stroke="#333" stroke-width="0.25">13:00</text><text x="732.25" y="169" font-size="9.02" fill="#333" stroke="#333" stroke-width="0.25">14:00</text><text x="660.62" y="185" font-size="9.50" fill="#333" letter-spacing="-0.141" stroke="#333" stroke-width="0.25">Send Rate</text><text x="728.25" y="185" font-size="9.50" fill="#333" letter-spacing="0.102" stroke="#333" stroke-width="0.25">Receive Rate</text><text x="674.25" y="236" font-size="9.50" fill="#4a4a4a" letter-spacing="0.533" stroke="#4a4a4a" stroke-width="0.12">Disk Utilization</text><text x="774.62" y="252" font-size="9.60" fill="#333" stroke="#333" stroke-width="0.25">8</text><text x="774.75" y="280" font-size="9.60" fill="#333" stroke="#333" stroke-width="0.25">4</text><text x="774.62" y="308" font-size="9.60" fill="#333" stroke="#333" stroke-width="0.25">0</text><text x="636.70" y="318" font-size="9.60" fill="#333" letter-spacing="-0.188" stroke="#333" stroke-width="0.25">11:00</text><text x="669.85" y="318" font-size="9.02" fill="#333" stroke="#333" stroke-width="0.25">12:00</text><text x="702.25" y="318" font-size="9.02" fill="#333" stroke="#333" stroke-width="0.25">13:00</text><text x="735.35" y="318" font-size="9.02" fill="#333" stroke="#333" stroke-width="0.25">14:00</text><text x="666.25" y="334" font-size="9.50" fill="#333" letter-spacing="-0.031" stroke="#333" stroke-width="0.25">Read Rate</text><text x="735.00" y="334" font-size="9.50" fill="#333" letter-spacing="0.083" stroke="#333" stroke-width="0.25">Write Rate</text><text x="377.25" y="252" font-size="9.50" fill="#4a4a4a" letter-spacing="0.426" stroke="#4a4a4a" stroke-width="0.12">Memory Utilization</text><text x="485.75" y="267" font-size="9.60" fill="#333" stroke="#333" stroke-width="0.25">40</text><text x="485.50" y="295" font-size="9.60" fill="#333" stroke="#333" stroke-width="0.25">20</text><text x="485.62" y="323" font-size="9.60" fill="#333" stroke="#333" stroke-width="0.25">0</text><text x="342.20" y="333" font-size="9.60" fill="#333" letter-spacing="-0.188" stroke="#333" stroke-width="0.25">11:00</text><text x="375.95" y="333" font-size="9.02" fill="#333" stroke="#333" stroke-width="0.25">12:00</text><text x="411.15" y="333" font-size="9.02" fill="#333" stroke="#333" stroke-width="0.25">13:00</text><text x="445.05" y="333" font-size="9.02" fill="#333" stroke="#333" stroke-width="0.25">14:00</text><text x="284.66" y="278" font-size="8.85" fill="#333" letter-spacing="-0.000">Swapped</text><text x="284.66" y="292" font-size="8.96" fill="#333">Shared</text><text x="284.31" y="306" font-size="9.05" fill="#333">Ballooned</text><text x="285.00" y="320" font-size="9.80" fill="#333" letter-spacing="-0.050">Active</text><text x="268.75" y="355" font-size="11.00" fill="#333" letter-spacing="-0.068" stroke="#333" stroke-width="0.25">Total Memory</text><text x="343.38" y="355" font-size="11.00" fill="#333" font-weight="bold" letter-spacing="0.025">192 GB</text><text x="390.12" y="355" font-size="11.00" fill="#333" letter-spacing="-0.188" stroke="#333" stroke-width="0.25">Memory Used</text><text x="465.50" y="355" font-size="11.00" fill="#333" font-weight="bold" letter-spacing="1.625">79</text><text x="483.75" y="355" font-size="11.00" fill="#333" font-weight="bold">%</text><text x="267.62" y="85" font-size="10.40" fill="#1e2a50" font-weight="bold" letter-spacing="-0.089" stroke="#1e2a50" stroke-width="0.15">CPU Load</text><text x="540.38" y="85" font-size="10.40" fill="#1e2a50" font-weight="bold" letter-spacing="0.525" stroke="#1e2a50" stroke-width="0.15">Network I/O</text><text x="263.25" y="234" font-size="11.40" fill="#1e2a50" font-weight="bold" letter-spacing="0.625" stroke="#1e2a50" stroke-width="0.15">Memory</text><text x="550.38" y="234" font-size="10.40" fill="#1e2a50" font-weight="bold" letter-spacing="0.482" stroke="#1e2a50" stroke-width="0.15">Disk I/O</text></svg>
</body></html>
